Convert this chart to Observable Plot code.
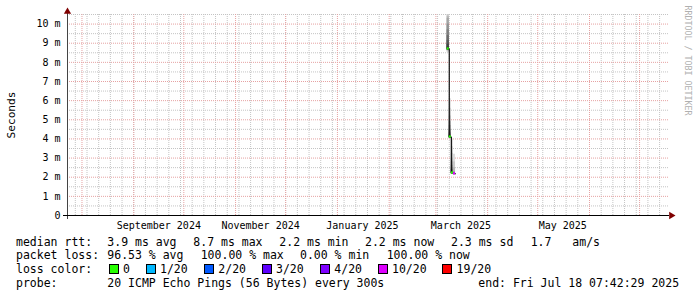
<!DOCTYPE html>
<html><head><meta charset="utf-8">
<script src="https://cdn.jsdelivr.net/npm/d3@7"></script>
<script src="https://cdn.jsdelivr.net/npm/@observablehq/plot@0.6"></script>
<style>
html,body{margin:0;padding:0;background:#fff;}
#wrap{position:relative;width:697px;height:297px;overflow:hidden;background:#fff;}
#legend{position:absolute;left:0;top:0;width:697px;height:297px;font-family:"DejaVu Sans Mono",monospace;font-size:11.5px;color:#000;pointer-events:none;}
#legend span{position:absolute;white-space:pre;line-height:14px;}
#legend .box{position:absolute;width:8px;height:8px;border:1px solid #000;}
</style></head>
<body><div id="wrap"><div id="chart"></div><div id="legend"></div></div>
<script>
// ---- data ----
const endTime = "2025-07-18T07:42:29Z";
const spanDays = 360;
const stepStarts = ["2025-03-07T18:00:00Z", "2025-03-09T00:00:00Z", "2025-03-10T06:00:00Z", "2025-03-11T12:00:00Z"];
const stepHours = 30;
const medians = [8.7, 4.1, 2.22, 2.18];
const lossCounts = [0, 0, 0, 10];
const pings = [
  [8.5, 8.55, 8.6, 8.62, 8.64, 8.66, 8.68, 8.69, 8.7, 8.7, 8.8, 8.95, 9.15, 9.4, 9.7, 10.0, 10.3, 10.4, 11.5, 13.0],
  [4.0, 4.02, 4.04, 4.05, 4.06, 4.07, 4.08, 4.09, 4.1, 4.1, 4.12, 4.18, 4.25, 4.35, 4.5, 4.7, 4.9, 5.2, 5.6, 6.1],
  [2.15, 2.16, 2.17, 2.18, 2.19, 2.2, 2.2, 2.21, 2.21, 2.22, 2.26, 2.32, 2.4, 2.5, 2.62, 2.8, 3.0, 3.25, 3.6, 4.0],
  [2.15, 2.16, 2.17, 2.18, 2.18, 2.2, 2.3, 2.5, 2.8, 3.2]
];
const pingsPerStep = 20;
const yTicks = [0, 1, 2, 3, 4, 5, 6, 7, 8, 9, 10];
const yTickLabels = ["0", "1 m", "2 m", "3 m", "4 m", "5 m", "6 m", "7 m", "8 m", "9 m", "10 m"];
const yMax = 10.5;
const monthLabelDates = ["2024-09-01T00:00:00Z", "2024-11-01T00:00:00Z", "2025-01-01T00:00:00Z", "2025-03-01T00:00:00Z", "2025-05-01T00:00:00Z"];
const monthLabels = ["September 2024", "November 2024", "January 2025", "March 2025", "May 2025"];
const lossLevels = ["0", "1/20", "2/20", "3/20", "4/20", "10/20", "19/20"];
const lossThresholds = [0, 1, 2, 3, 4, 10, 19];
const lossColors = ["#26ff00", "#00b8ff", "#0059ff", "#5e00ff", "#7e00ff", "#dd00ff", "#ff0000"];
const rttStats = ["3.9 ms avg", "8.7 ms max", "2.2 ms min", "2.2 ms now", "2.3 ms sd"];
const amsStats = ["1.7", "am/s"];
const lossStats = ["96.53 % avg", "100.00 % max", "0.00 % min", "100.00 % now"];
const rowTitles = ["median rtt:", "packet loss:", "loss color:", "probe:"];
const probeText = "20 ICMP Echo Pings (56 Bytes) every 300s";
const endText = "end: Fri Jul 18 07:42:29 2025";
const watermark = "RRDTOOL / TOBI OETIKER";
const yTitle = "Seconds";

// ---- layout (pixels) ----
const rowY = [241.7, 255, 269.3, 282.7];
const titleX = 16;
const rttX = [107.3, 193.3, 279.3, 365, 451];
const amsX = [530.7, 572.3];
const lossX = [107.3, 200.7, 300, 386.7];
const boxX = [108.7, 145.7, 204, 261.7, 320, 377.7, 442.3];
const probeX = 107.3, endX = 478.3;

// ---- derived ----
const end = new Date(endTime);
const start = d3.utcDay.offset(end, -spanDays);
const steps = stepStarts.map((s, i) => {
  const t0 = new Date(s);
  return {t0, t1: d3.utcHour.offset(t0, stepHours), median: medians[i], loss: lossCounts[i], pings: pings[i]};
});
function lossColor(n) {
  let c = lossColors[0];
  lossThresholds.forEach((t, i) => { if (n >= t) c = lossColors[i]; });
  return c;
}
const half = pingsPerStep / 2;
const bands = [];
steps.forEach(s => {
  const p = s.pings.slice().sort((a, b) => a - b);
  const n = p.length;
  for (let ibot = 1; ibot <= Math.floor(n / 2); ibot++) {
    const g = Math.round(190 / half * (half - ibot)) + 50;
    bands.push({t0: s.t0, t1: s.t1, lo: p[ibot - 1], hi: p[n - ibot], fill: `rgb(${g},${g},${g})`});
  }
});
const linePts = steps.map(s => ({t: s.t0, v: s.median}));
linePts.push({t: steps[steps.length - 1].t1, v: steps[steps.length - 1].median});

const sundays = d3.utcSunday.range(start, end);
const months = d3.utcMonth.range(d3.utcDay.offset(start, 1), end);
const minorY = d3.range(0.5, yMax + 0.01, 1);
const majorY = yTicks.filter(d => d > 0);
const minorColor = "#c4c4c4", majorColor = "#e6a2a2";

const chart = Plot.plot({
  width: 697,
  height: 297,
  marginLeft: 67,
  marginRight: 29,
  marginTop: 14,
  marginBottom: 82,
  style: {fontFamily: "'DejaVu Sans Mono', monospace", fontSize: "10px", background: "#fff", overflow: "visible"},
  x: {type: "utc", domain: [start, end], axis: null},
  y: {domain: [0, yMax], axis: null},
  marks: [
    Plot.ruleY(minorY, {stroke: minorColor, strokeDasharray: "1,1"}),
    Plot.ruleX(sundays, {stroke: minorColor, strokeDasharray: "1,1"}),
    Plot.ruleY(majorY, {stroke: majorColor, strokeDasharray: "1,1"}),
    Plot.ruleX(months, {stroke: majorColor, strokeDasharray: "1,1"}),
    Plot.rect(bands, {x1: "t0", x2: "t1", y1: "lo", y2: "hi", fill: "fill", clip: true}),
    Plot.line(linePts, {x: "t", y: "v", curve: "step-after", stroke: "#101010", strokeWidth: 1.2, clip: true}),
    Plot.rect(steps, {x1: "t0", x2: "t1", y1: "median", y2: "median", insetTop: -1.1, insetBottom: -1.1, fill: d => lossColor(d.loss)}),
    Plot.ruleX([start], {stroke: "#444", insetTop: -5, insetBottom: -4}),
    Plot.ruleY([0], {stroke: "#000", insetLeft: -4, insetRight: -1}),
    Plot.dot([0], {frameAnchor: "top-left", dy: -2.8, symbol: "triangle", r: 2.7, fill: "#7f0000", stroke: "none"}),
    Plot.dot([0], {frameAnchor: "bottom-right", dx: 2.8, rotate: 90, symbol: "triangle", r: 2.7, fill: "#7f0000", stroke: "none"}),
    Plot.text(yTicks, {y: d => d, text: (d, i) => yTickLabels[i], frameAnchor: "left", dx: -7, textAnchor: "end", lineAnchor: "middle", fill: "#000", fontSize: 10}),
    Plot.text(monthLabelDates, {x: d => d3.utcDay.offset(new Date(d), 15), text: (d, i) => monthLabels[i], frameAnchor: "bottom", dy: 10, textAnchor: "middle", lineAnchor: "middle", fill: "#000", fontSize: 10}),
    Plot.text([yTitle], {frameAnchor: "left", dx: -56, rotate: -90, textAnchor: "middle", lineAnchor: "middle", fill: "#000", fontSize: 11.2}),
    Plot.text([watermark], {frameAnchor: "top-right", dx: 19, dy: 46, rotate: 90, textAnchor: "middle", lineAnchor: "middle", fill: "#b0b0b0", fontSize: 8.3})
  ]
});
document.getElementById("chart").appendChild(chart);

// ---- legend ----
const legend = document.getElementById("legend");
function addText(txt, x, cy) {
  const s = document.createElement("span");
  s.textContent = txt;
  s.style.left = x + "px";
  s.style.top = (cy - 7) + "px";
  legend.appendChild(s);
}
rowTitles.forEach((t, i) => addText(t, titleX, rowY[i]));
rttStats.forEach((t, i) => addText(t, rttX[i], rowY[0]));
amsStats.forEach((t, i) => addText(t, amsX[i], rowY[0]));
lossStats.forEach((t, i) => addText(t, lossX[i], rowY[1]));
lossLevels.forEach((t, i) => {
  const b = document.createElement("div");
  b.className = "box";
  b.style.left = boxX[i] + "px";
  b.style.top = (rowY[2] - 5) + "px";
  b.style.background = lossColors[i];
  legend.appendChild(b);
  addText(t, boxX[i] + 14.3, rowY[2]);
});
addText(probeText, probeX, rowY[3]);
addText(endText, endX, rowY[3]);
</script></body></html>
